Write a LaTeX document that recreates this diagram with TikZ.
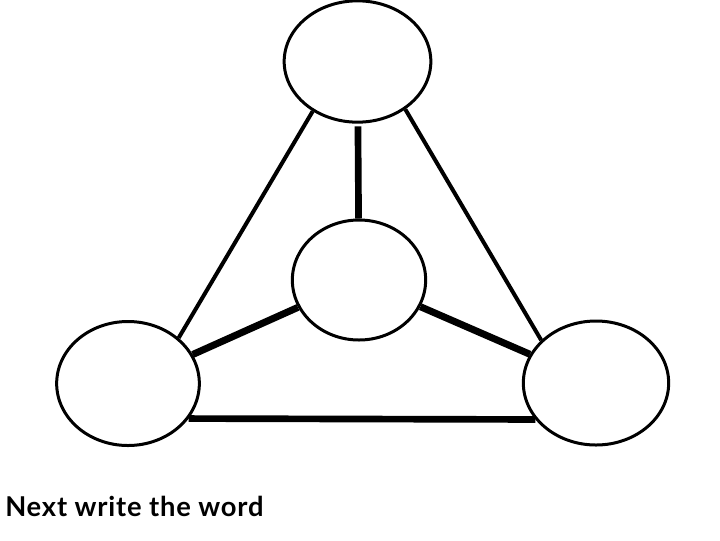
\documentclass[tikz,border=0pt]{standalone}
\usepackage{fontspec}
\setmainfont{Lato}
\usepackage{tikz}
\usetikzlibrary{shapes.geometric}

\begin{document}
\begin{tikzpicture}[x=0.75pt, y=-0.75pt,
        vertex/.style={draw, ellipse, line width=2.25pt, inner sep=0pt},
        thin edge/.style={line width=3pt},
        thick edge/.style={line width=5pt}]
    \useasboundingbox (0,0) rectangle (720,540);

    \node[vertex, minimum width=110pt, minimum height=91pt] (top) at (357.5,61.5) {};
    \node[vertex, minimum width=100pt, minimum height=90pt] (mid) at (359,280) {};
    \node[vertex, minimum width=107pt, minimum height=93pt] (left) at (128,383.5) {};
    \node[vertex, minimum width=109pt, minimum height=93pt] (right) at (596,383) {};

    \draw[thin edge] (top.-132) -- (left.42);
    \draw[thin edge] (top.-45) -- (right.142);
    \draw[thick edge, shorten <=2pt] (top) -- (mid);
    \draw[thick edge, line width=5.25pt] (mid) -- (left);
    \draw[thick edge, line width=5.25pt] (mid) -- (right);
    \draw[thick edge] (left.-30) -- (right.-149);

    \node[anchor=base west, inner sep=0pt,
          font=\fontsize{20.5}{22}\selectfont\bfseries\addfontfeature{LetterSpace=3}] (caption)
        at (5,516) {Next write the word};
\end{tikzpicture}
\end{document}
